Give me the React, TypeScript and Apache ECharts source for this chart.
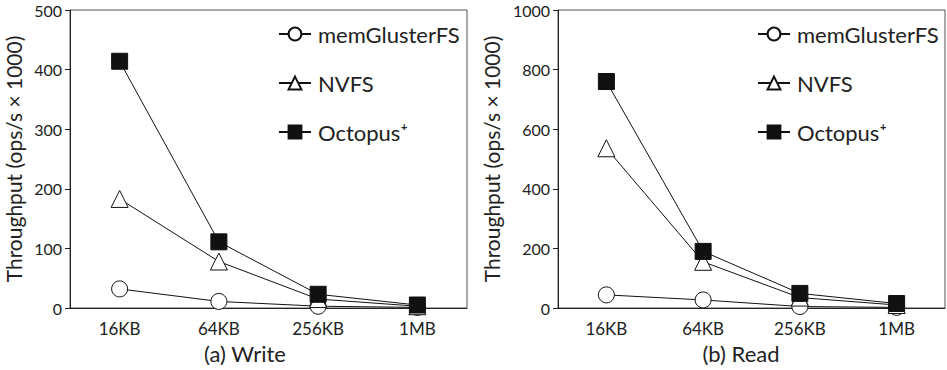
import React, { useEffect, useRef } from "react";
import * as echarts from "echarts";

const categories = ["16KB", "64KB", "256KB", "1MB"];
const seriesNames = ["memGlusterFS", "NVFS", "Octopus⁺"];
const writeMem = [32, 11, 3, 1];
const writeNvfs = [183, 78, 15, 3];
const writeOct = [414, 111, 23, 5];
const readMem = [44, 27, 5, 2];
const readNvfs = [536, 155, 35, 10];
const readOct = [760, 190, 49, 15];
const writeTicks = { min: 0, max: 500, interval: 100 };
const readTicks = { min: 0, max: 1000, interval: 200 };

const FONT = "Lato";
const symbols = ["circle", "triangle", "rect"];
const symbolSizes = [16, 17, 16];
const fills = ["#ffffff", "#ffffff", "#111111"];

export default function App() {
  const ref = useRef<HTMLDivElement>(null);
  useEffect(() => {
    document.body.style.margin = "0";
    const chart = echarts.init(ref.current!, null, { renderer: "svg" });
    const grids = [
      { left: 70, top: 10, width: 397, height: 298 },
      { left: 558, top: 10, width: 387, height: 298 },
    ];
    const mkX = (gi: number) => ({
      type: "category",
      gridIndex: gi,
      data: categories,
      boundaryGap: true,
      axisLine: { lineStyle: { color: "#222", width: 1 } },
      axisTick: { alignWithLabel: true, length: 5, lineStyle: { color: "#222" } },
      axisLabel: { fontFamily: FONT, fontSize: 17, color: "#222", margin: 12 },
      splitLine: { show: false },
    });
    const mkY = (gi: number, t: any) => ({
      type: "value",
      gridIndex: gi,
      min: t.min,
      max: t.max,
      interval: t.interval,
      name: "Throughput (ops/s × 1000)",
      nameLocation: "middle",
      nameGap: gi === 0 ? 46 : 56,
      nameTextStyle: { fontFamily: FONT, fontSize: 21, color: "#222" },
      axisLine: { show: true, lineStyle: { color: "#222", width: 1 } },
      axisTick: { show: true, length: 5, lineStyle: { color: "#222" } },
      axisLabel: { fontFamily: FONT, fontSize: 16, color: "#222", margin: 8, formatter: (v: number) => String(v) },
      splitLine: { show: false },
    });
    const mkSeries = (gi: number, data: number[][]) =>
      data.map((d, i) => ({
        type: "line",
        name: seriesNames[i],
        xAxisIndex: gi,
        yAxisIndex: gi,
        data: d,
        symbol: symbols[i],
        symbolSize: symbolSizes[i],
        lineStyle: { color: "#111", width: 1 },
        itemStyle: { color: fills[i], borderColor: "#111", borderWidth: 1 },
        z: 2 + i,
      }));
    const mkLegend = (left: number) => ({
      orient: "vertical",
      left,
      top: 18,
      itemGap: 27,
      itemWidth: 32,
      itemHeight: 16,
      data: seriesNames,
      textStyle: { fontFamily: FONT, fontSize: 22, color: "#222", padding: [0, 0, 0, 2] },
      selectedMode: false,
    });
    chart.setOption({
      animation: false,
      backgroundColor: "#ffffff",
      grid: grids.map((g) => ({ ...g, show: true, borderColor: "#555", borderWidth: 1, backgroundColor: "transparent" })),
      xAxis: [mkX(0), mkX(1)],
      yAxis: [mkY(0, writeTicks), mkY(1, readTicks)],
      legend: [mkLegend(273), mkLegend(752)],
      title: [
        { text: "(a) Write", left: 240, top: 337, textAlign: "center", textStyle: { fontFamily: FONT, fontSize: 22, fontWeight: "normal", color: "#222" } },
        { text: "(b) Read", left: 736, top: 337, textAlign: "center", textStyle: { fontFamily: FONT, fontSize: 22, fontWeight: "normal", color: "#222" } },
      ],
      series: [
        ...mkSeries(0, [writeMem, writeNvfs, writeOct]),
        ...mkSeries(1, [readMem, readNvfs, readOct]),
      ],
    });
    return () => chart.dispose();
  }, []);
  return <div ref={ref} style={{ width: 947, height: 370 }} />;
}
